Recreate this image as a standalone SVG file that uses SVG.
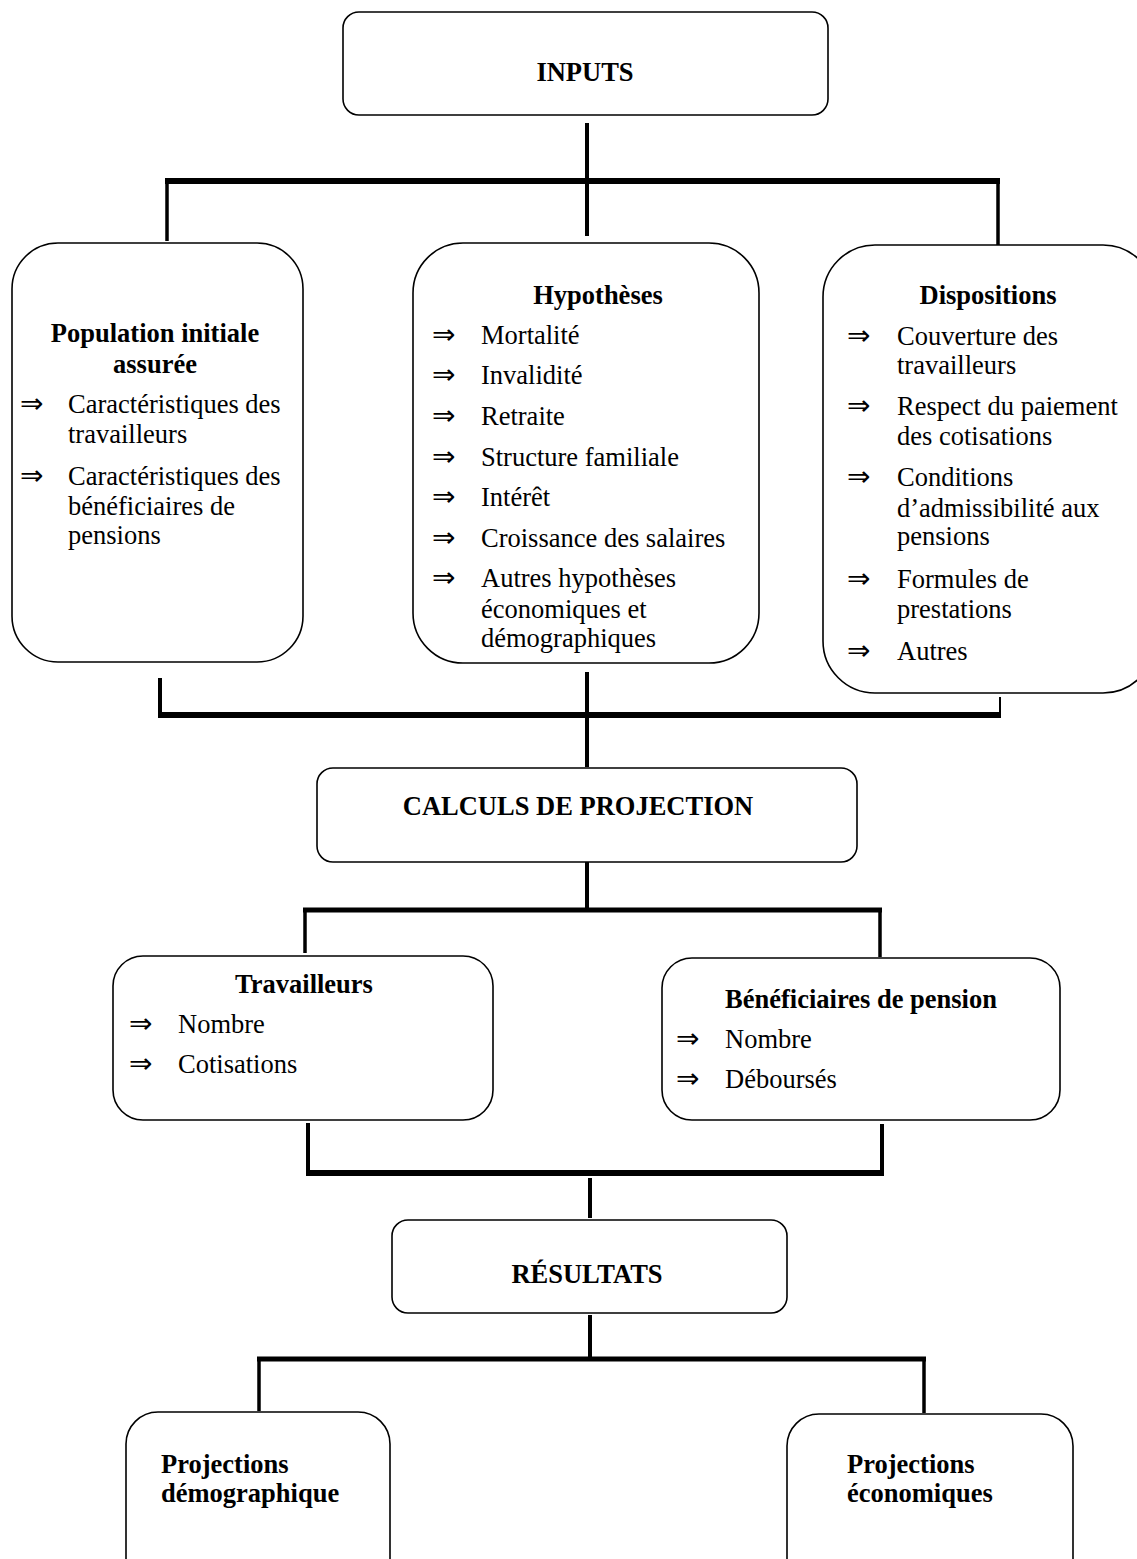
<svg xmlns="http://www.w3.org/2000/svg" width="1137" height="1559" viewBox="0 0 1137 1559">
  <style>
    .box { fill: #ffffff; stroke: #000000; stroke-width: 1.6; }
    .t { font-family: "Liberation Serif", "Times New Roman", serif; font-size: 26.5px; fill: #000000; }
    .b { font-weight: bold; }
    .c { text-anchor: middle; }
    .arr { font-family: "DejaVu Sans", "Liberation Serif", sans-serif; font-size: 28px; fill: #000000; }
    .ln { stroke: #000000; fill: none; stroke-linecap: butt; }
  </style>

  <rect width="1137" height="1559" fill="#ffffff"/>

  <!-- connectors -->
  <g id="connectors">
    <!-- INPUTS to the three input boxes -->
    <line class="ln" x1="587" y1="123" x2="587" y2="236" stroke-width="4"/>
    <line class="ln" x1="165" y1="181" x2="1000" y2="181" stroke-width="6"/>
    <line class="ln" x1="167" y1="181" x2="167" y2="241" stroke-width="3.5"/>
    <line class="ln" x1="998" y1="181" x2="998" y2="245" stroke-width="3.5"/>
    <!-- input boxes to CALCULS DE PROJECTION -->
    <line class="ln" x1="160" y1="678" x2="160" y2="713" stroke-width="4"/>
    <line class="ln" x1="1000" y1="697" x2="1000" y2="713" stroke-width="2"/>
    <line class="ln" x1="158" y1="715" x2="1001" y2="715" stroke-width="6"/>
    <line class="ln" x1="587" y1="672" x2="587" y2="767" stroke-width="4"/>
    <!-- CALCULS to Travailleurs / Bénéficiaires -->
    <line class="ln" x1="587" y1="862" x2="587" y2="910" stroke-width="4"/>
    <line class="ln" x1="303" y1="910" x2="882" y2="910" stroke-width="5"/>
    <line class="ln" x1="305" y1="910" x2="305" y2="953" stroke-width="3.5"/>
    <line class="ln" x1="880" y1="910" x2="880" y2="957" stroke-width="3.5"/>
    <!-- Travailleurs / Bénéficiaires to RÉSULTATS -->
    <line class="ln" x1="308" y1="1123" x2="308" y2="1175" stroke-width="4"/>
    <line class="ln" x1="882" y1="1124" x2="882" y2="1175" stroke-width="4"/>
    <line class="ln" x1="306" y1="1173" x2="884" y2="1173" stroke-width="6"/>
    <line class="ln" x1="590" y1="1178" x2="590" y2="1218" stroke-width="4"/>
    <!-- RÉSULTATS to projections -->
    <line class="ln" x1="590" y1="1315" x2="590" y2="1357" stroke-width="4"/>
    <line class="ln" x1="257" y1="1359" x2="926" y2="1359" stroke-width="5"/>
    <line class="ln" x1="259" y1="1359" x2="259" y2="1411" stroke-width="3.5"/>
    <line class="ln" x1="924" y1="1359" x2="924" y2="1413" stroke-width="3.5"/>
  </g>

  <g id="inputs">
    <rect class="box" x="343" y="12" width="485" height="103" rx="16"/>
    <text class="t b c" x="585" y="81">INPUTS</text>
  </g>

  <g id="population">
    <rect class="box" x="12" y="243" width="291" height="419" rx="46"/>
    <text class="t b c" x="155" y="342">Population initiale</text>
    <text class="t b c" x="155" y="373">assurée</text>
    <text class="arr" x="20" y="413">⇒</text>
    <text class="t" x="68" y="413">Caractéristiques des</text>
    <text class="t" x="68" y="443">travailleurs</text>
    <text class="arr" x="20" y="485">⇒</text>
    <text class="t" x="68" y="485">Caractéristiques des</text>
    <text class="t" x="68" y="515">bénéficiaires de</text>
    <text class="t" x="68" y="544">pensions</text>
  </g>

  <g id="hypotheses">
    <rect class="box" x="413" y="243" width="346" height="420" rx="50"/>
    <text class="t b c" x="598" y="304">Hypothèses</text>
    <text class="arr" x="432" y="344">⇒</text>
    <text class="t" x="481" y="344">Mortalité</text>
    <text class="arr" x="432" y="384">⇒</text>
    <text class="t" x="481" y="384">Invalidité</text>
    <text class="arr" x="432" y="425">⇒</text>
    <text class="t" x="481" y="425">Retraite</text>
    <text class="arr" x="432" y="466">⇒</text>
    <text class="t" x="481" y="466">Structure familiale</text>
    <text class="arr" x="432" y="506">⇒</text>
    <text class="t" x="481" y="506">Intérêt</text>
    <text class="arr" x="432" y="547">⇒</text>
    <text class="t" x="481" y="547">Croissance des salaires</text>
    <text class="arr" x="432" y="587">⇒</text>
    <text class="t" x="481" y="587">Autres hypothèses</text>
    <text class="t" x="481" y="618">économiques et</text>
    <text class="t" x="481" y="647">démographiques</text>
  </g>

  <g id="dispositions">
    <rect class="box" x="823" y="245" width="332" height="448" rx="52"/>
    <text class="t b c" x="988" y="304">Dispositions</text>
    <text class="arr" x="847" y="345">⇒</text>
    <text class="t" x="897" y="345">Couverture des</text>
    <text class="t" x="897" y="374">travailleurs</text>
    <text class="arr" x="847" y="415">⇒</text>
    <text class="t" x="897" y="415">Respect du paiement</text>
    <text class="t" x="897" y="445">des cotisations</text>
    <text class="arr" x="847" y="486">⇒</text>
    <text class="t" x="897" y="486">Conditions</text>
    <text class="t" x="897" y="517">d’admissibilité aux</text>
    <text class="t" x="897" y="545">pensions</text>
    <text class="arr" x="847" y="588">⇒</text>
    <text class="t" x="897" y="588">Formules de</text>
    <text class="t" x="897" y="618">prestations</text>
    <text class="arr" x="847" y="660">⇒</text>
    <text class="t" x="897" y="660">Autres</text>
  </g>

  <g id="calculs">
    <rect class="box" x="317" y="768" width="540" height="94" rx="16"/>
    <text class="t b c" x="578" y="815">CALCULS DE PROJECTION</text>
  </g>

  <g id="travailleurs">
    <rect class="box" x="113" y="956" width="380" height="164" rx="30"/>
    <text class="t b c" x="304" y="993">Travailleurs</text>
    <text class="arr" x="129" y="1033">⇒</text>
    <text class="t" x="178" y="1033">Nombre</text>
    <text class="arr" x="129" y="1073">⇒</text>
    <text class="t" x="178" y="1073">Cotisations</text>
  </g>

  <g id="beneficiaires">
    <rect class="box" x="662" y="958" width="398" height="162" rx="30"/>
    <text class="t b c" x="861" y="1008">Bénéficiaires de pension</text>
    <text class="arr" x="676" y="1048">⇒</text>
    <text class="t" x="725" y="1048">Nombre</text>
    <text class="arr" x="676" y="1088">⇒</text>
    <text class="t" x="725" y="1088">Déboursés</text>
  </g>

  <g id="resultats">
    <rect class="box" x="392" y="1220" width="395" height="93" rx="16"/>
    <text class="t b c" x="587" y="1283">RÉSULTATS</text>
  </g>

  <g id="proj-demo">
    <rect class="box" x="126" y="1412" width="264" height="180" rx="32"/>
    <text class="t b" x="161" y="1473">Projections</text>
    <text class="t b" x="161" y="1502">démographique</text>
  </g>

  <g id="proj-eco">
    <rect class="box" x="787" y="1414" width="286" height="180" rx="32"/>
    <text class="t b" x="847" y="1473">Projections</text>
    <text class="t b" x="847" y="1502">économiques</text>
  </g>
</svg>
